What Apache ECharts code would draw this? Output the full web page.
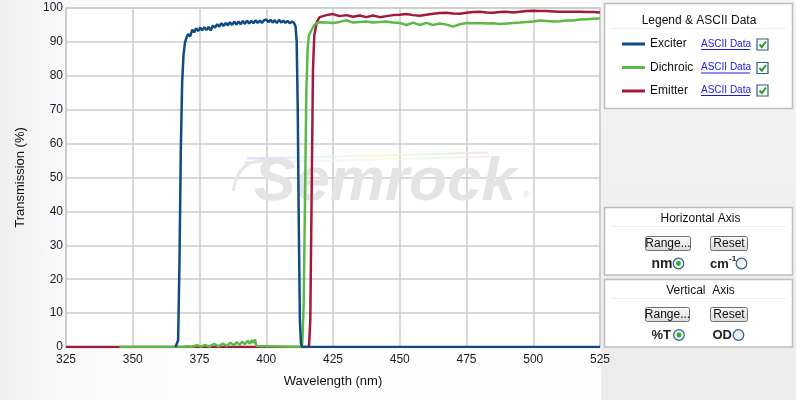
<!DOCTYPE html>
<html>
<head>
<meta charset="utf-8">
<script src="https://cdn.jsdelivr.net/npm/echarts@6/dist/echarts.min.js"></script>
<style>
html,body{margin:0;padding:0;}
body{background:linear-gradient(to right,#efefef 0px,#fafafa 60px,#fdfdfd 200px,#fdfdfd 100%);}
#chart{width:796px;height:400px;}
</style>
</head>
<body>
<div id="chart"></div>
<script>
// ---------- data ----------
var seriesNames = ['Exciter', 'Dichroic', 'Emitter'];
var xTicks = { min: 325, max: 525, interval: 25 };
var yTicks = { min: 0, max: 100, interval: 10 };

var excWl = [366, 366.5, 367, 367.5, 368, 368.5, 369, 369.5, 370, 370.7, 371.5, 372.3, 373, 373.7, 374.5, 375.3, 376, 376.8, 377.6, 378.4,
  379.2, 380, 380.8, 381.6, 382.4, 383.2, 384, 384.8, 385.6, 386.4, 387.2, 388, 388.8, 389.6, 390.4, 391.2, 392, 392.8, 393.6, 394.4,
  395.2, 396, 396.8, 397.6, 398.4, 399.2, 400, 400.8, 401.6, 402.4, 403.2, 404, 404.8, 405.6, 406.4, 407.2, 408, 408.8, 409.6, 410.4,
  411, 411.4, 411.8, 412.2, 412.6, 413, 413.5, 525];
var excT = [0, 0, 2, 25, 58, 78, 86, 89.5, 91, 92.3, 91.6, 93.6, 92.8, 94, 93.2, 94.2, 93.4, 94.3, 93.5, 94.4,
  93.4, 94.8, 94.2, 95.2, 94.5, 95.5, 94.7, 95.6, 94.9, 95.8, 95, 96, 95.1, 96, 95.2, 96.2, 95.3, 96.3, 95.4, 96.2,
  95.5, 96.4, 95.6, 96.3, 95.6, 96.4, 96.6, 95.8, 96.5, 95.7, 96.4, 95.6, 96.5, 95.7, 96.3, 95.6, 96.2, 95.5, 96, 95.6,
  94.5, 90, 70, 35, 8, 1, 0, 0];

var dicWl = [345, 369, 370.5, 372, 374, 375.6, 377, 378.7, 380.4, 382.1, 383.8, 385.2, 386.6, 387.8, 389, 390, 391, 392, 393, 393.8,
  394.6, 395.2, 395.8, 396.3, 397, 413, 413.5, 414, 414.5, 415, 415.5, 416, 417, 418, 419, 420,
  422.5, 425, 427.5, 430, 432.5, 435, 437.5, 440, 442.5, 445, 447.5, 450, 452.5, 455, 457.5, 460, 462.5, 465, 467.5, 470,
  472.5, 475, 477.5, 480, 482.5, 485, 487.5, 490, 492.5, 495, 497.5, 500, 502.5, 505, 507.5, 510, 512.5, 515, 517.5, 520, 522.5, 525];
var dicT = [0, 0, 0.2, 0, 0.5, 0.1, 0.6, 0.1, 0.9, 0.2, 1.0, 0.3, 1.3, 0.5, 1.4, 0.6, 1.6, 0.8, 1.8, 1.0,
  2.0, 1.2, 2.2, 0.3, 0, 0, 1, 12, 42, 75, 88, 92, 93.5, 95, 95.6, 95.8,
  95.7, 95.6, 95.9, 96.4, 95.7, 95.9, 96.0, 95.7, 95.9, 96.0, 95.7, 95.6, 95.0, 95.7, 95.0, 95.6, 95.0, 95.4, 95.1, 94.5,
  95.2, 95.6, 95.5, 95.6, 95.4, 95.5, 95.3, 95.4, 95.6, 95.7, 95.9, 96.0, 96.3, 96.2, 96.0, 96.1, 96.3, 96.3, 96.6, 96.7, 96.8, 96.9];

var emWl = [325, 416, 416.5, 417, 417.5, 418, 419, 420,
  422.5, 425, 427.5, 430, 432.5, 435, 437.5, 440, 442.5, 445, 447.5, 450, 452.5, 455, 457.5, 460, 462.5, 465, 467.5, 470,
  472.5, 475, 477.5, 480, 482.5, 485, 487.5, 490, 492.5, 495, 497.5, 500, 502.5, 505, 507.5, 510, 512.5, 515, 517.5, 520, 522.5, 525];
var emT = [0, 0, 8, 45, 82, 92, 96, 97.3,
  97.9, 98.2, 97.6, 97.9, 97.4, 97.8, 97.3, 97.8, 97.3, 97.6, 97.9, 98.0, 98.2, 97.9, 97.7, 98.0, 98.3, 98.5, 98.6, 98.4,
  98.3, 98.6, 98.8, 98.9, 98.7, 98.6, 98.8, 98.9, 98.7, 98.9, 99.1, 99.2, 99.1, 99.1, 99.0, 98.9, 98.9, 98.9, 98.9, 98.8, 98.8, 98.7];

var colors = ['#0f4c84', '#5cb947', '#a01a3a'];

function pairs(xs, ys) { return xs.map(function (x, i) { return [x, ys[i]]; }); }

// ---------- helpers for the side panel ----------
var g = [];
function box(x, y, w, h) {
  g.push({ type: 'rect', shape: { x: x, y: y, width: w, height: h }, style: { fill: '#fff', stroke: '#bdbdbd', lineWidth: 1.5 }, z: 1 });
}
function txt(x, y, s, font, color, align) {
  g.push({ type: 'text', x: x, y: y, style: { text: s, font: font, fill: color || '#111', align: align || 'left', verticalAlign: 'middle' }, z: 5 });
}
function sep(y) {
  g.push({ type: 'line', shape: { x1: 612, y1: y, x2: 786, y2: y }, style: { stroke: '#eeeeee', lineWidth: 1 }, z: 2 });
}
function button(x, y, w, h, s) {
  g.push({ type: 'rect', shape: { x: x, y: y, width: w, height: h, r: 2 },
    style: { fill: new echarts.graphic.LinearGradient(0, 0, 0, 1, [{ offset: 0, color: '#fbfbfb' }, { offset: 1, color: '#dadada' }]), stroke: '#707070', lineWidth: 1 }, z: 3 });
  txt(x + w / 2, y + h / 2 + 0.5, s, '12px Arial', '#111', 'center');
}
function radio(cx, cy, on) {
  g.push({ type: 'circle', shape: { cx: cx, cy: cy, r: 5.3 },
    style: { fill: new echarts.graphic.LinearGradient(0, 0, 1, 1, [{ offset: 0, color: '#e4e4e4' }, { offset: 1, color: '#ffffff' }]), stroke: '#2d5e96', lineWidth: 1.2 }, z: 3 });
  if (on) g.push({ type: 'circle', shape: { cx: cx, cy: cy, r: 2.4 }, style: { fill: '#27b027' }, z: 4 });
}
function check(x, y) {
  g.push({ type: 'rect', shape: { x: x, y: y, width: 11, height: 11 }, style: { fill: '#fff', stroke: '#2d5e80', lineWidth: 1.2 }, z: 3 });
  g.push({ type: 'polyline', shape: { points: [[x + 2.5, y + 5.5], [x + 4.8, y + 8.2], [x + 9, y + 2.5]] }, style: { stroke: '#2a9a2a', lineWidth: 2, fill: null }, z: 4 });
}
function link(x, y) {
  txt(x, y, 'ASCII Data', '10px Arial', '#1a1ae6', 'left');
  g.push({ type: 'line', shape: { x1: x, y1: y + 5.5, x2: x + 49, y2: y + 5.5 }, style: { stroke: '#1a1ae6', lineWidth: 1 }, z: 4 });
}

// panel background
g.push({ type: 'rect', shape: { x: 601, y: 0, width: 195, height: 400 },
  style: { fill: new echarts.graphic.LinearGradient(0, 0, 0, 1, [{ offset: 0, color: '#f5f5f5' }, { offset: 1, color: '#ececec' }]) }, z: 0 });

// legend box
box(604.5, 3.5, 188, 105);
txt(699, 21, 'Legend & ASCII Data', '12px Arial', '#111', 'center');
sep(28.5);
[44, 67.5, 90].forEach(function (y) { link(701, y); check(757, y - 5); });

// horizontal axis box
box(604.5, 207.5, 188, 67.5);
txt(700.5, 219, 'Horizontal Axis', '12px Arial', '#111', 'center');
sep(226.5);
button(645.5, 236.5, 45, 14, 'Range...');
button(710.5, 236.5, 37, 14, 'Reset');
txt(672.5, 264, 'nm', 'bold 14px Arial', '#222', 'right');
radio(678.5, 263.5, true);
txt(710, 264, 'cm', 'bold 13px Arial', '#222', 'left');
txt(729, 259, '-1', 'bold 8px Arial', '#222', 'left');
radio(741.5, 263.5, false);

// vertical axis box
box(604.5, 279.5, 188, 67.5);
txt(700.5, 291, 'Vertical  Axis', '12px Arial', '#111', 'center');
sep(298.5);
button(645.5, 307.5, 44, 14, 'Range...');
button(710.5, 307.5, 37, 14, 'Reset');
txt(671, 335, '%T', 'bold 13px Arial', '#222', 'right');
radio(679, 335, true);
txt(732, 335, 'OD', 'bold 13px Arial', '#222', 'right');
radio(738.5, 335, false);

// watermark
g.push({ type: 'polyline', shape: { points: [[247, 158.5], [380, 155.5], [488, 152.5]] },
  style: { stroke: new echarts.graphic.LinearGradient(0, 0, 1, 0, [{ offset: 0, color: '#c8c8ff' }, { offset: 0.3, color: '#d8f0ff' }, { offset: 0.55, color: '#fff6c0' }, { offset: 0.75, color: '#d8f5d8' }, { offset: 1, color: '#ffd0d8' }]), lineWidth: 2, fill: null, opacity: 0.7 }, z: 1 });
g.push({ type: 'polyline', shape: { points: [[244, 162.5], [380, 159.5], [490, 156.5]] },
  style: { stroke: new echarts.graphic.LinearGradient(0, 0, 1, 0, [{ offset: 0, color: '#d6d6ff' }, { offset: 0.3, color: '#def4ff' }, { offset: 0.55, color: '#fff8d0' }, { offset: 0.75, color: '#e0f6e0' }, { offset: 1, color: '#ffd8e0' }]), lineWidth: 2, fill: null, opacity: 0.6 }, z: 1 });
g.push({ type: 'polyline', shape: { points: [[285, 160], [258, 161], [244, 167], [237, 178], [233, 191]], smooth: 0.4 },
  style: { stroke: '#e6e6e6', lineWidth: 3, fill: null }, z: 1 });
g.push({ type: 'text', x: 254, y: 183, style: { text: 'Semrock', font: 'italic bold 62px Arial', fill: '#e4e4e4', verticalAlign: 'middle', align: 'left' }, z: 1 });
g.push({ type: 'text', x: 523, y: 196, style: { text: '\u00ae', font: '9px Arial', fill: '#dcdcdc', verticalAlign: 'middle' }, z: 1 });

var chart = echarts.init(document.getElementById('chart'), null, { renderer: 'canvas' });
chart.setOption({
  animation: false,
  backgroundColor: 'transparent',
  color: colors,
  grid: { left: 66, right: 196, top: 8, bottom: 53, show: true, backgroundColor: '#ffffff', borderColor: '#cccccc', borderWidth: 1.5 },
  legend: {
    data: seriesNames, orient: 'vertical', left: 622, top: 37, itemWidth: 23, itemHeight: 3, icon: 'rect',
    itemGap: 9.5, padding: 0, selectedMode: false,
    textStyle: { fontSize: 12, fontFamily: 'Arial', color: '#111', lineHeight: 14 }, z: 6
  },
  xAxis: {
    type: 'value', min: xTicks.min, max: xTicks.max, interval: xTicks.interval,
    name: 'Wavelength (nm)', nameLocation: 'middle', nameGap: 28,
    nameTextStyle: { fontSize: 13, fontFamily: 'Arial', color: '#111' },
    axisLine: { lineStyle: { color: '#cccccc', width: 1 } },
    axisTick: { show: false },
    axisLabel: { fontSize: 12, fontFamily: 'Arial', color: '#1a1a2a', margin: 7 },
    splitLine: { show: true, lineStyle: { color: '#cdcdcd', width: 1.5 } }
  },
  yAxis: {
    type: 'value', min: yTicks.min, max: yTicks.max, interval: yTicks.interval,
    name: 'Transmission (%)', nameLocation: 'middle', nameGap: 39,
    nameTextStyle: { fontSize: 13, fontFamily: 'Arial', color: '#111' },
    axisLine: { show: true, lineStyle: { color: '#cccccc', width: 1.5 } },
    axisTick: { show: false },
    axisLabel: { fontSize: 12, fontFamily: 'Arial', color: '#1a1a2a', margin: 3 },
    splitLine: { show: true, lineStyle: { color: '#cdcdcd', width: 1.5 } }
  },
  graphic: g,
  series: [
    { name: 'Exciter', type: 'line', data: pairs(excWl, excT), showSymbol: false, symbol: 'none', z: 4, lineStyle: { width: 2.5, color: colors[0] } },
    { name: 'Dichroic', type: 'line', data: pairs(dicWl, dicT), showSymbol: false, symbol: 'none', z: 3, lineStyle: { width: 2.5, color: colors[1] } },
    { name: 'Emitter', type: 'line', data: pairs(emWl, emT), showSymbol: false, symbol: 'none', z: 2, lineStyle: { width: 2.5, color: colors[2] } }
  ]
});
</script>
</body>
</html>
